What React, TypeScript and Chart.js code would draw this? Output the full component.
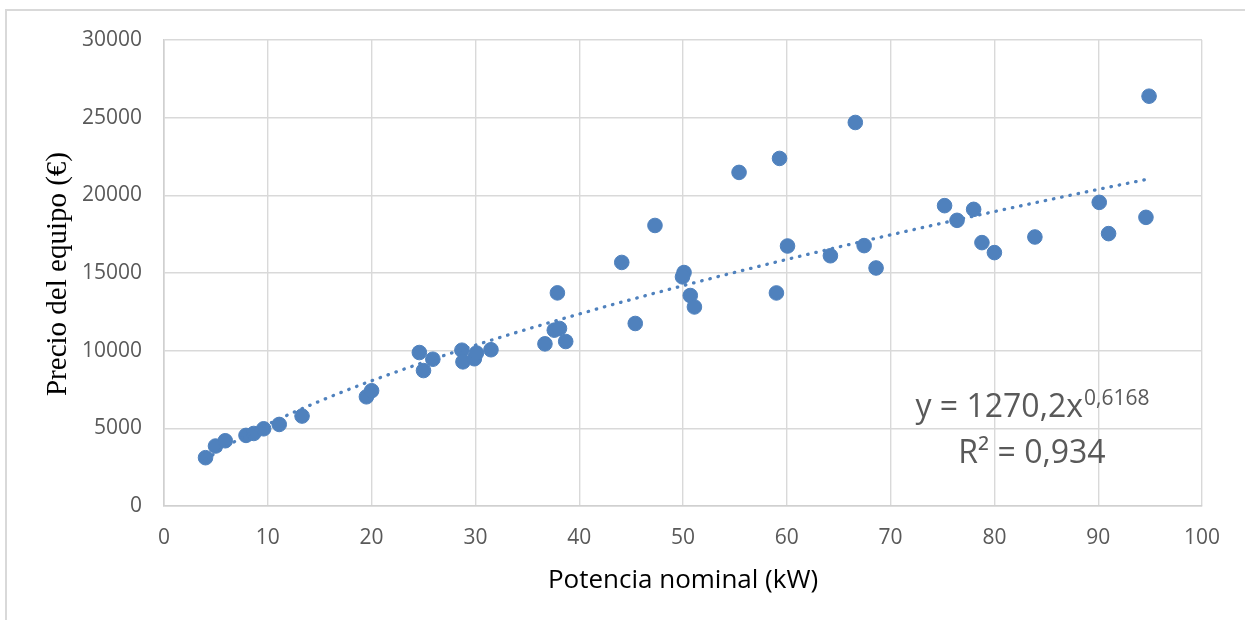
import { useEffect, useRef } from "react";
import { Chart, registerables } from "chart.js";

Chart.register(...registerables);

// Measured data: nominal power (kW) vs equipment price (€)
const powerKW = [
  4.0, 4.96, 5.9, 7.9, 8.65, 9.6, 11.1, 13.3, 19.5, 20.0,
  24.6, 25.0, 25.9, 28.7, 28.8, 29.9, 30.1, 31.5, 36.7, 37.6,
  38.1, 38.7, 37.9, 44.1, 45.4, 47.3, 50.1, 49.95, 50.7, 51.1,
  55.4, 59.0, 59.3, 60.07, 64.2, 66.6, 67.45, 68.6, 75.2, 76.4,
  78.0, 78.8, 80.0, 83.9, 90.1, 91.0, 94.6, 94.9,
];
const priceEUR = [
  3110, 3860, 4200, 4545, 4670, 4970, 5250, 5790, 7030, 7420,
  9880, 8720, 9450, 10030, 9280, 9480, 9850, 10060, 10440, 11320,
  11430, 10590, 13720, 15680, 11750, 18060, 15030, 14750, 13550, 12815,
  21476, 13716, 22376, 16738, 16110, 24690, 16763, 15323, 19335, 18390,
  19097, 16956, 16313, 17318, 19547, 17535, 18583, 26382,
];

const trendKW = [4, 6, 10, 15, 20, 30, 40, 50, 60, 70, 80, 90, 95];
const trendEUR = [2987, 3836, 5257, 6749, 8061, 10350, 12360, 14183, 15871, 17455, 18954, 20383, 21072];

const xTitle = "Potencia nominal (kW)";
const yTitle = "Precio del equipo (€)";
const eqMain = "y = 1270,2x";
const eqExp = "0,6168";
const r2Label = "R² = 0,934";

const BLUE = "#4f81bd";
const GRID = "#d9d9d9";
const TICK = "#595959";
const SANS = '"Open Sans", "Noto Sans", sans-serif';

const textPlugin = {
  id: "extraTexts",
  afterDraw(chart: any) {
    const ctx = chart.ctx as CanvasRenderingContext2D;
    const area = chart.chartArea;
    ctx.save();
    // y-axis title
    ctx.save();
    ctx.translate(66, 274);
    ctx.rotate(-Math.PI / 2);
    ctx.font = '29px "Liberation Serif", "DejaVu Serif", serif';
    ctx.fillStyle = "#000";
    ctx.textAlign = "center";
    ctx.textBaseline = "alphabetic";
    ctx.fillText(yTitle, 0, 0);
    ctx.restore();

    // x-axis title
    ctx.font = `26px ${SANS}`;
    ctx.fillStyle = "#000";
    ctx.textAlign = "center";
    ctx.textBaseline = "alphabetic";
    ctx.fillText(xTitle, (area.left + area.right) / 2, 588);

    // trendline equation
    const cx = 1032;
    ctx.fillStyle = TICK;
    ctx.textAlign = "left";
    ctx.font = `32px ${SANS}`;
    const wMain = ctx.measureText(eqMain).width;
    ctx.font = `21px ${SANS}`;
    const wExp = ctx.measureText(eqExp).width;
    const start = cx - (wMain + wExp) / 2;
    ctx.font = `32px ${SANS}`;
    ctx.fillText(eqMain, start, 417);
    ctx.font = `21px ${SANS}`;
    ctx.fillText(eqExp, start + wMain + 1, 405);
    ctx.font = `32px ${SANS}`;
    ctx.textAlign = "center";
    ctx.fillText(r2Label, cx, 463);
    ctx.restore();
  },
};

export default function App() {
  const canvasRef = useRef<HTMLCanvasElement | null>(null);

  useEffect(() => {
    if (!canvasRef.current) return;
    const chart = new Chart(canvasRef.current, {
      type: "scatter",
      data: {
        datasets: [
          {
            label: "Tendencia",
            data: trendKW.map((x, i) => ({ x, y: trendEUR[i] })),
            showLine: true,
            borderColor: BLUE,
            borderWidth: 3.3,
            borderDash: [0.5, 7.9],
            borderCapStyle: "round",
            pointRadius: 0,
            pointHoverRadius: 0,
            cubicInterpolationMode: "monotone",
            fill: false,
          } as any,
          {
            label: "Precio",
            data: powerKW.map((x, i) => ({ x, y: priceEUR[i] })),
            backgroundColor: BLUE,
            borderColor: BLUE,
            borderWidth: 1,
            pointRadius: 7.3,
            pointHoverRadius: 7.3,
          },
        ],
      },
      options: {
        responsive: false,
        animation: false,
        devicePixelRatio: 1,
        layout: { padding: { left: 0, right: 43, top: 40, bottom: 0 } },
        plugins: {
          legend: { display: false },
          tooltip: { enabled: false },
          title: { display: false },
        },
        scales: {
          x: {
            type: "linear",
            min: 0,
            max: 100,
            afterFit: (scale: any) => {
              scale.height = 114;
            },
            ticks: {
              stepSize: 10,
              padding: 19,
              color: TICK,
              font: { family: SANS, size: 21 },
              callback: (v: any) => String(v),
            },
            grid: { color: GRID, lineWidth: 1.4, drawTicks: false },
            border: { color: "#d0d0d0", width: 1.6 },
          },
          y: {
            type: "linear",
            min: 0,
            max: 30000,
            afterFit: (scale: any) => {
              scale.width = 164;
            },
            ticks: {
              stepSize: 5000,
              padding: 22,
              color: TICK,
              font: { family: SANS, size: 21 },
              callback: (v: any) => String(v),
            },
            grid: { color: GRID, lineWidth: 1.4, drawTicks: false },
            border: { color: "#d0d0d0", width: 1.6 },
          },
        },
      },
      plugins: [textPlugin],
    });
    return () => chart.destroy();
  }, []);

  return (
    <div
      style={{
        position: "fixed",
        left: 0,
        top: 0,
        width: 1245,
        height: 620,
        overflow: "hidden",
        background: "#fff",
      }}
    >
      <div
        style={{
          position: "absolute",
          left: 5,
          top: 9,
          width: 1400,
          height: 800,
          borderLeft: "2px solid #d9d9d9",
          borderTop: "2px solid #d9d9d9",
        }}
      />
      <canvas
        ref={canvasRef}
        width={1245}
        height={620}
        style={{ position: "absolute", left: 0, top: 0, width: 1245, height: 620 }}
      />
    </div>
  );
}
